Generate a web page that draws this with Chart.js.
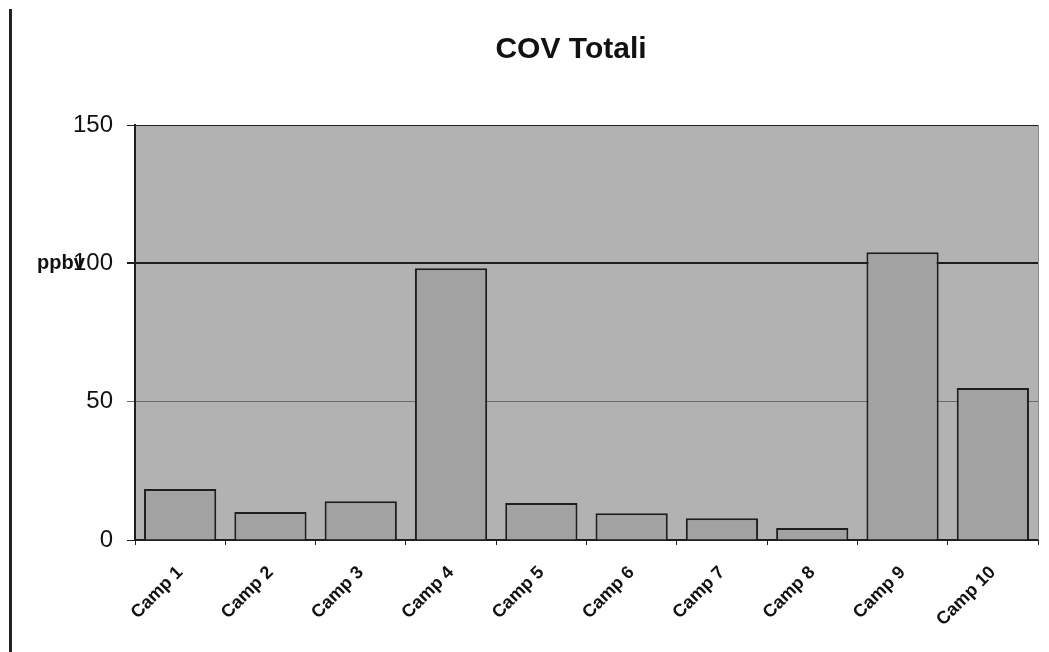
<!DOCTYPE html>
<html>
<head>
<meta charset="utf-8">
<script src="https://cdn.jsdelivr.net/npm/chart.js@4/dist/chart.umd.min.js"></script>
<style>
  html, body { margin: 0; padding: 0; background: #ffffff; }
  #wrap { position: relative; width: 1049px; height: 652px; overflow: hidden; }
  #rule { position: absolute; left: 9px; top: 9px; width: 3px; height: 643px; background: #222; }
  canvas { position: absolute; left: 0; top: 0; }
</style>
</head>
<body>
<div id="wrap">
  <div id="rule"></div>
  <canvas id="chart" width="1049" height="652"></canvas>
</div>
<script>
// Campaign names along the x axis
const categories = ['Camp 1', 'Camp 2', 'Camp 3', 'Camp 4', 'Camp 5',
                    'Camp 6', 'Camp 7', 'Camp 8', 'Camp 9', 'Camp 10'];
// Total VOC concentration per campaign (ppbv)
const covTotali = [18.4, 10.1, 14.0, 98.2, 13.4, 9.7, 7.9, 4.3, 104.0, 54.9];
// Value axis ticks
const yTicks = [0, 50, 100, 150];
const chartTitle = 'COV Totali';
const unitLabel = 'ppbv';

const FONT = "'Liberation Sans', Arial, Helvetica, sans-serif";

// Gray plot area with a faint right edge
const plotBackground = {
  id: 'plotBackground',
  beforeDraw(chart) {
    const { ctx, chartArea: a } = chart;
    ctx.save();
    ctx.fillStyle = '#b2b2b2';
    ctx.fillRect(a.left, a.top, a.right - a.left, a.bottom - a.top);
    ctx.restore();
  },
  afterDraw(chart) {
    const { ctx, chartArea: a } = chart;
    ctx.save();
    ctx.strokeStyle = '#8a8a8a';
    ctx.lineWidth = 1;
    ctx.beginPath();
    ctx.moveTo(a.right + 0.5, a.top);
    ctx.lineTo(a.right + 0.5, a.bottom);
    ctx.stroke();
    ctx.restore();
  }
};

// Chart heading, centred over the drawing area right of the unit label
const headingText = {
  id: 'headingText',
  afterDraw(chart) {
    const { ctx } = chart;
    ctx.save();
    ctx.font = 'bold 30px ' + FONT;
    ctx.fillStyle = '#111';
    ctx.textAlign = 'center';
    ctx.textBaseline = 'middle';
    ctx.fillText(chartTitle, 571, 50);
    ctx.restore();
  }
};

// Horizontal unit label placed beside the 100 tick
const unitText = {
  id: 'unitText',
  afterDraw(chart) {
    const { ctx } = chart;
    const y = chart.scales.y.getPixelForValue(yTicks[2]);
    ctx.save();
    ctx.font = 'bold 20px ' + FONT;
    ctx.fillStyle = '#111';
    ctx.textAlign = 'left';
    ctx.textBaseline = 'middle';
    ctx.fillText(unitLabel, 37, y);
    ctx.restore();
  }
};

function gridColor(ctx) {
  const v = ctx.tick && ctx.tick.value;
  if (v === 50) return '#6a6a6a';
  return '#1e1e1e';
}
function gridWidth(ctx) {
  const v = ctx.tick && ctx.tick.value;
  if (v === 100) return 2;
  return 1;
}

new Chart(document.getElementById('chart'), {
  type: 'bar',
  data: {
    labels: categories,
    datasets: [{
      label: chartTitle,
      data: covTotali,
      backgroundColor: '#a2a2a2',
      borderColor: '#1e1e1e',
      borderWidth: 2,
      borderSkipped: 'bottom',
      barPercentage: 0.8,
      categoryPercentage: 1.0
    }]
  },
  options: {
    responsive: false,
    animation: false,
    layout: { padding: { top: 125, left: 65, right: 11, bottom: 0 } },
    plugins: {
      legend: { display: false },
      tooltip: { enabled: false },
      title: { display: false }
    },
    scales: {
      x: {
        offset: true,
        border: { display: true, color: '#1e1e1e', width: 2 },
        grid: {
          offset: true,
          drawOnChartArea: false,
          drawTicks: true,
          tickLength: 5,
          color: '#1e1e1e',
          lineWidth: 1
        },
        ticks: {
          autoSkip: false,
          minRotation: 45,
          maxRotation: 45,
          padding: 17,
          color: '#111',
          font: { family: FONT, size: 18, weight: 'bold' }
        },
        afterFit(scale) { scale.height = 112; }
      },
      y: {
        min: yTicks[0],
        max: yTicks[yTicks.length - 1],
        border: { display: true, color: '#1e1e1e', width: 2 },
        grid: {
          color: gridColor,
          lineWidth: gridWidth,
          tickLength: 8,
          tickColor: gridColor
        },
        afterBuildTicks(scale) {
          scale.ticks = yTicks.map(v => ({ value: v }));
        },
        ticks: {
          padding: 14,
          color: '#111',
          font: { family: FONT, size: 24 },
          callback: (v) => String(v)
        },
        afterFit(scale) { scale.width = 70; }
      }
    }
  },
  plugins: [plotBackground, headingText, unitText]
});
</script>
</body>
</html>
